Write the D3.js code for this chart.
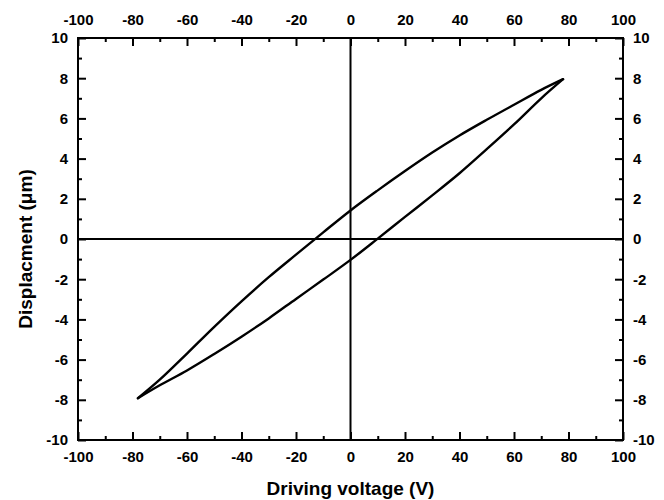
<!DOCTYPE html>
<html>
<head>
<meta charset="utf-8">
<script src="https://cdn.jsdelivr.net/npm/d3@7"></script>
<style>
  html, body { margin: 0; padding: 0; background: #fff; }
  svg { display: block; }
  text { font-family: "Liberation Sans", Arial, sans-serif; font-weight: bold; fill: #000; }
</style>
</head>
<body>
<svg id="chart" width="664" height="500"></svg>
<script>
// Ascending branch (voltage rising from -78 V to +78 V)
const upVoltage = [-78, -70, -60, -50, -40, -30, -20, -10, 0, 10, 20, 30, 40, 50, 60, 70, 78];
const upDisp    = [-7.92, -7.28, -6.54, -5.72, -4.86, -3.95, -2.98, -2.02, -1.04, 0.02, 1.1, 2.17, 3.27, 4.47, 5.7, 7.0, 7.95];

// Descending branch (voltage falling from +78 V to -78 V)
const downVoltage = [78, 70, 60, 50, 40, 30, 20, 10, 0, -10, -20, -30, -40, -50, -60, -70, -78];
const downDisp    = [7.95, 7.42, 6.68, 5.93, 5.15, 4.3, 3.38, 2.42, 1.42, 0.33, -0.78, -1.9, -3.1, -4.37, -5.7, -7.0, -7.92];

const xTicks = [-100, -80, -60, -40, -20, 0, 20, 40, 60, 80, 100];
const yTicks = [-10, -8, -6, -4, -2, 0, 2, 4, 6, 8, 10];

const svg = d3.select('#chart');
const plotLeft = 78, plotRight = 623, plotTop = 38, plotBottom = 440;

const x = d3.scaleLinear().domain([-100, 100]).range([plotLeft, plotRight]);
const y = d3.scaleLinear().domain([-10, 10]).range([plotBottom, plotTop]);

// minor ticks between the labelled ones
const xMinor = d3.range(-90, 100, 20);
const yMinor = d3.range(-9, 10, 2);

// plain hyphen for negatives, as in the original
const fmt = d => String(d);

function styleAxis(g) {
    g.select('.domain').remove();
    g.selectAll('.tick line').attr('stroke', '#000').attr('stroke-width', 2);
    g.selectAll('.tick text').style('font-size', '15px');
}

// bottom
svg.append('g').attr('transform', `translate(0,${plotBottom})`)
    .call(d3.axisBottom(x).tickValues(xTicks).tickSizeInner(-8).tickSizeOuter(0).tickPadding(11).tickFormat(fmt))
    .call(styleAxis);
svg.append('g').attr('transform', `translate(0,${plotBottom})`)
    .call(d3.axisBottom(x).tickValues(xMinor).tickSize(-4).tickFormat(''))
    .call(styleAxis);

// top
svg.append('g').attr('transform', `translate(0,${plotTop})`)
    .call(d3.axisTop(x).tickValues(xTicks).tickSizeInner(-8).tickSizeOuter(0).tickPadding(13).tickFormat(fmt))
    .call(styleAxis);
svg.append('g').attr('transform', `translate(0,${plotTop})`)
    .call(d3.axisTop(x).tickValues(xMinor).tickSize(-4).tickFormat(''))
    .call(styleAxis);

// left
svg.append('g').attr('transform', `translate(${plotLeft},0)`)
    .call(d3.axisLeft(y).tickValues(yTicks).tickSizeInner(-8).tickSizeOuter(0).tickPadding(10).tickFormat(fmt))
    .call(styleAxis);
svg.append('g').attr('transform', `translate(${plotLeft},0)`)
    .call(d3.axisLeft(y).tickValues(yMinor).tickSize(-4).tickFormat(''))
    .call(styleAxis);

// right
svg.append('g').attr('transform', `translate(${plotRight},0)`)
    .call(d3.axisRight(y).tickValues(yTicks).tickSizeInner(-8).tickSizeOuter(0).tickPadding(10).tickFormat(fmt))
    .call(styleAxis);
svg.append('g').attr('transform', `translate(${plotRight},0)`)
    .call(d3.axisRight(y).tickValues(yMinor).tickSize(-4).tickFormat(''))
    .call(styleAxis);

// zero lines
svg.append('line')
    .attr('x1', x(0)).attr('x2', x(0)).attr('y1', plotTop).attr('y2', plotBottom)
    .attr('stroke', '#000').attr('stroke-width', 2);
svg.append('line')
    .attr('x1', plotLeft).attr('x2', plotRight).attr('y1', y(0)).attr('y2', y(0))
    .attr('stroke', '#000').attr('stroke-width', 2);

// frame
svg.append('rect')
    .attr('x', plotLeft).attr('y', plotTop)
    .attr('width', plotRight - plotLeft).attr('height', plotBottom - plotTop)
    .attr('fill', 'none').attr('stroke', '#000').attr('stroke-width', 2);

// hysteresis loop
const line = d3.line()
    .x(d => x(d[0]))
    .y(d => y(d[1]))
    .curve(d3.curveCatmullRom);

const branches = [
    d3.zip(upVoltage, upDisp),
    d3.zip(downVoltage, downDisp)
];

svg.append('g')
    .selectAll('path')
    .data(branches)
    .enter()
    .append('path')
    .attr('d', line)
    .attr('fill', 'none')
    .attr('stroke', '#000')
    .attr('stroke-width', 2.4)
    .attr('stroke-linejoin', 'round')
    .attr('stroke-linecap', 'round');

// axis titles
svg.append('text')
    .attr('x', (plotLeft + plotRight) / 2)
    .attr('y', 495)
    .attr('text-anchor', 'middle')
    .style('font-size', '19px')
    .text('Driving voltage (V)');

svg.append('text')
    .attr('transform', `translate(32,${(plotTop + plotBottom) / 2 + 10}) rotate(-90)`)
    .attr('text-anchor', 'middle')
    .style('font-size', '19px')
    .text('Displacment (μm)');
</script>
</body>
</html>
